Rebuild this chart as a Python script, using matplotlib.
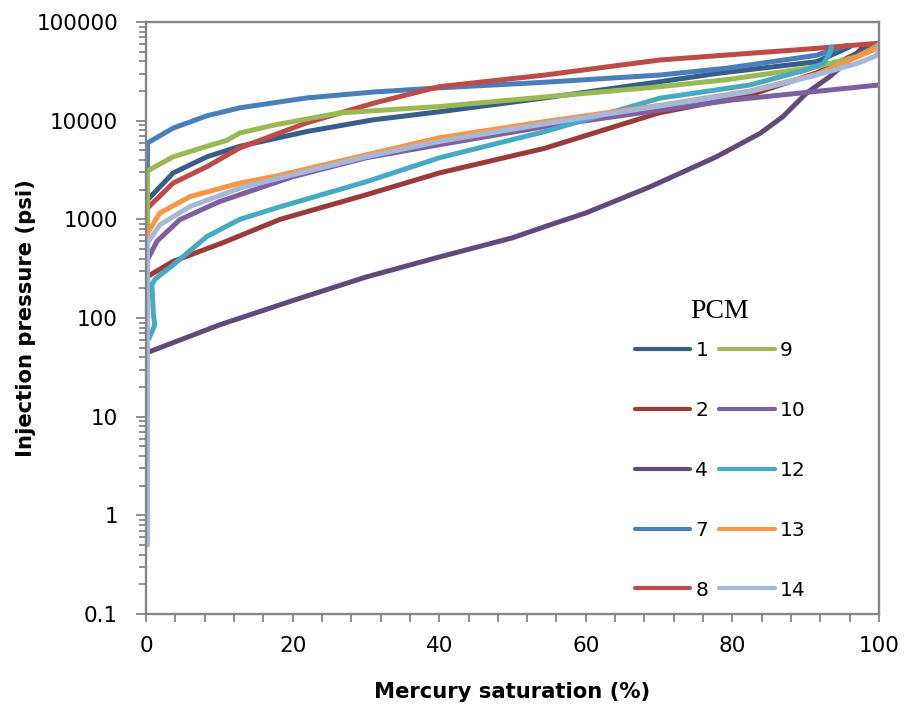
import matplotlib
matplotlib.use("Agg")
import matplotlib.pyplot as plt
from matplotlib.ticker import MultipleLocator, LogLocator, FuncFormatter, NullFormatter

# PCM sample ids and line colours (Excel-style palette)
pcm_ids = ["1", "2", "4", "7", "8", "9", "10", "12", "13", "14"]
colors = ["#385D8A", "#9A3B39", "#604A7B", "#4A7EBB", "#BE4B48",
          "#98B954", "#7D60A0", "#46AAC5", "#F79646", "#A4B8DA"]

# mercury saturation (%) / injection pressure (psi)
sat_1 = [0.2, 0.2, 3.7, 8.3, 12.8, 21.9, 31, 40, 54.4, 70.1, 78, 91.5, 96]
p_1 = [1200, 1570, 2950, 4300, 5500, 7750, 10200, 12300, 17000, 24800, 30200, 39600, 56000]

sat_2 = [0.2, 0.2, 3.7, 10.5, 18.3, 30, 40, 54.4, 70, 82.4, 91.5, 98.8]
p_2 = [200, 263, 375, 580, 1000, 1770, 2950, 5250, 12000, 18200, 30500, 56000]

sat_4 = [0.3, 10, 20, 30, 40, 50, 54.4, 60, 68.8, 77.8, 83.8, 86.9, 90.1, 93.3, 97, 98]
p_4 = [45, 85, 150, 260, 415, 650, 843, 1160, 2140, 4300, 7450, 11000, 19000, 28000, 48200, 58000]

sat_7 = [0.2, 0.2, 3.7, 8.3, 12.8, 21.9, 31, 40, 54.4, 70.1, 79.2, 91.5, 95.6]
p_7 = [3000, 5950, 8400, 11200, 13500, 17000, 19500, 21500, 24500, 29000, 34000, 46000, 58000]

sat_8 = [0.2, 3.7, 8.3, 12.8, 21.9, 31, 40, 54.4, 70.1, 82.4, 90, 100]
p_8 = [1300, 2330, 3420, 5300, 9500, 15000, 22100, 29000, 41200, 48200, 53000, 61000]

sat_9 = [0.2, 0.2, 3.7, 8.3, 11, 12.8, 17.4, 26.5, 40, 54.4, 70.1, 79.2, 91.5, 97, 100]
p_9 = [800, 3100, 4300, 5500, 6300, 7500, 9000, 12000, 13900, 17400, 22100, 26000, 35200, 44600, 58500]

sat_10 = [0.2, 0.2, 1.5, 4.6, 10, 20, 30, 40, 54.4, 70.1, 80, 100]
p_10 = [300, 390, 600, 990, 1510, 2700, 4200, 5700, 8700, 12800, 16200, 23000]

sat_12 = [0.4, 1.2, 1.0, 0.9, 0.8, 1.3, 3.7, 8.3, 12.8, 18.3, 30, 40, 54.4, 70.1, 82.4,
          90.1, 92.4, 92.8, 93.3, 93.5]
p_12 = [62, 85, 110, 160, 220, 250, 345, 670, 1000, 1340, 2400, 4200, 7750, 16900, 23000,
        32700, 38000, 42000, 48500, 56000]

sat_13 = [0.2, 0.2, 1.9, 6, 12.8, 18.3, 30, 40, 54.4, 70.1, 82.4, 91.5, 100]
p_13 = [600, 728, 1160, 1700, 2330, 2800, 4500, 6700, 9800, 14300, 20000, 29500, 55000]

sat_14 = [0.2, 0.2, 1.9, 6, 12.8, 18.3, 30, 40, 54.4, 70.1, 82.4, 91.5, 97, 99.5, 100, 100]
p_14 = [0.5, 580, 880, 1350, 2070, 2630, 4300, 6150, 9300, 14100, 19700, 29000, 38000, 45000,
        50000, 60000]

sat_all = [sat_1, sat_2, sat_4, sat_7, sat_8, sat_9, sat_10, sat_12, sat_13, sat_14]
p_all = [p_1, p_2, p_4, p_7, p_8, p_9, p_10, p_12, p_13, p_14]

plt.rcParams["font.family"] = ["DejaVu Sans"]
axis_grey = "#868686"

fig = plt.figure(figsize=(9.08, 7.11), dpi=100)
ax = fig.add_axes([146 / 908, 1 - 614 / 711, 733 / 908, 592 / 711])

handles = []
for pid, col, xs, ys in zip(pcm_ids, colors, sat_all, p_all):
    line, = ax.plot(xs, ys, color=col, lw=3.6, solid_capstyle="round",
                    solid_joinstyle="round", label=pid)
    handles.append(line)

ax.set_yscale("log")
ax.set_xlim(0, 100)
ax.set_ylim(0.1, 100000)

ax.xaxis.set_major_locator(MultipleLocator(20))
ax.xaxis.set_minor_locator(MultipleLocator(4))
ax.yaxis.set_major_locator(LogLocator(base=10, numticks=10))
ax.yaxis.set_minor_locator(LogLocator(base=10, subs=range(2, 10), numticks=20))
ax.yaxis.set_major_formatter(FuncFormatter(lambda v, pos: f"{v:g}"))
ax.yaxis.set_minor_formatter(NullFormatter())

for side in ["left", "right", "top", "bottom"]:
    ax.spines[side].set_color(axis_grey)
    ax.spines[side].set_linewidth(1.7)

ax.tick_params(axis="both", which="both", color=axis_grey, direction="out", width=1.3)
ax.tick_params(axis="y", which="major", length=7.2, pad=13, labelsize=15.5)
ax.tick_params(axis="y", which="minor", length=5)
ax.tick_params(axis="x", which="both", length=6, pad=10, labelsize=15.5)

ax.set_xlabel("Mercury saturation (%)", fontsize=15.2, fontweight="bold", va="center")
ax.set_ylabel("Injection pressure (psi)", fontsize=15.2, fontweight="bold", va="center")
ax.xaxis.set_label_coords(0.5, -(692 - 614) / 592)
ax.yaxis.set_label_coords(-(146 - 26) / 733, 0.5)

leg = ax.legend(handles=handles, ncol=2, loc="upper left",
                bbox_to_anchor=((635 - 146) / 733, 1 - (341 - 22) / 592),
                frameon=False, fontsize=14.5,
                handlelength=2.75, handletextpad=0.25, columnspacing=0.55,
                labelspacing=2.03, borderpad=0, borderaxespad=0)
for h in leg.legend_handles:
    h.set_linewidth(3.0)

# legend heading sits above the two columns
ax.text((720 - 146) / 733, 1 - (312 - 22) / 592, "PCM", transform=ax.transAxes,
        ha="center", va="center", fontsize=20, family="Liberation Serif")

fig.savefig("out.png", dpi=100)
